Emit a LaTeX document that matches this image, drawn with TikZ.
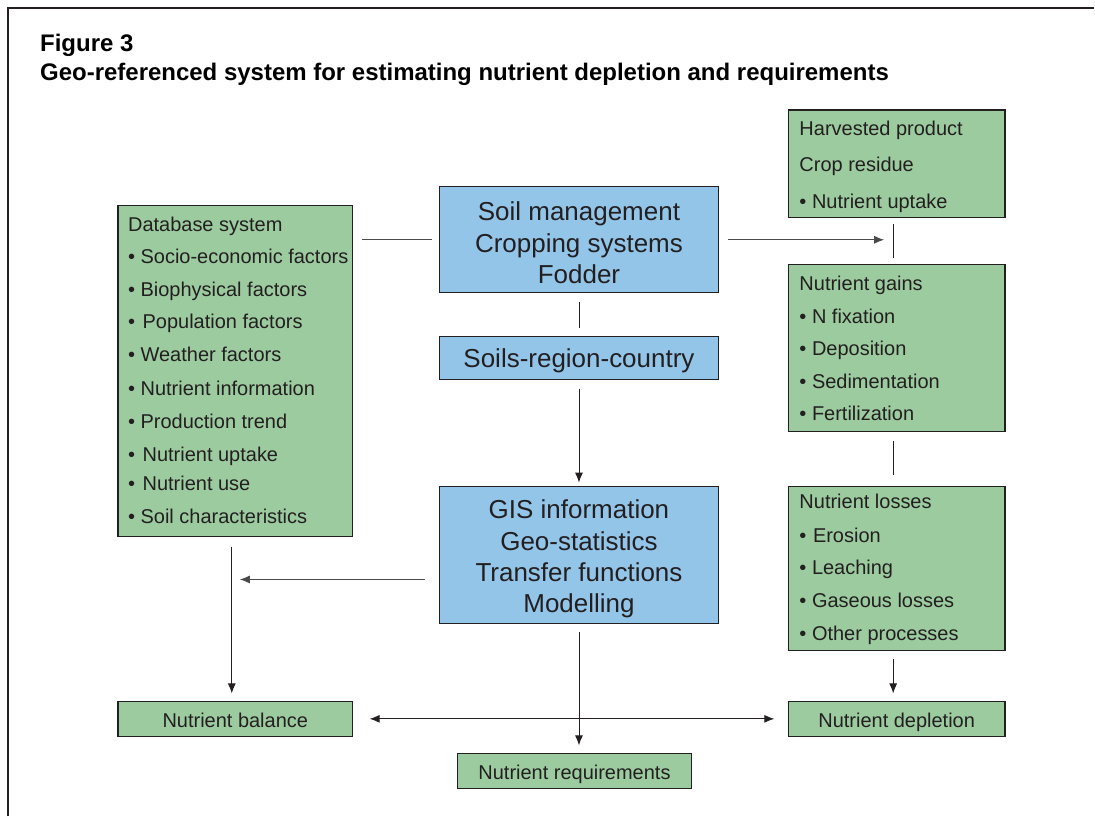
\documentclass[tikz,border=0pt]{standalone}
\usepackage{fontspec}
\setmainfont{Liberation Sans}
\usetikzlibrary{arrows.meta,calc}
\definecolor{boxgreen}{HTML}{9CCB9F}
\definecolor{boxblue}{HTML}{93C5E9}
\definecolor{ink}{HTML}{231F20}
\definecolor{wire}{HTML}{4A4A4A}

\begin{document}
\begin{tikzpicture}[x=1pt,y=-1pt,
  greenbox/.style={draw=ink, line width=1.3pt, fill=boxgreen, inner sep=0pt, outer sep=0pt,
                   font=\fontsize{20}{24}\selectfont, text=ink},
  onelabel/.style={text height=17.5pt, text depth=0pt},
  bluebox/.style={draw=ink, line width=1.3pt, fill=boxblue, inner sep=0pt, outer sep=0pt,
                  align=center, font=\fontsize{26}{31.5}\selectfont, text=ink},
  item/.style={anchor=base west, inner sep=0pt, font=\fontsize{20}{24}\selectfont, text=ink},
  titletext/.style={anchor=base west, inner sep=0pt, font=\fontsize{24}{28}\bfseries\selectfont, text=black},
  link/.style={draw=ink, line width=0.9pt},
  graylink/.style={draw=wire, line width=1.1pt},
  tip/.style={-{Latex[length=10pt,width=8pt]}},
  tips/.style={{Latex[length=10pt,width=8pt]}-{Latex[length=10pt,width=8pt]}},
]
% page and outer frame
\fill[white] (0,0) rectangle (1095,817);
\draw[ink, line width=2pt] (8,817) -- (8,8) -- (1095,8);

% heading
\node[titletext] (fig) at (40,51.5) {Figure 3};
\node[titletext] (title) at (40,80.5) {Geo-referenced system for estimating nutrient depletion and requirements};

% boxes
\node[greenbox, minimum width=235, minimum height=331] (db)   at (235.5,371.5) {};
\node[bluebox,  minimum width=279, minimum height=106] (sm)   at (579.5,240)   {\rule{0pt}{25pt}Soil management\\Cropping systems\\Fodder};
\node[bluebox,  minimum width=279, minimum height=43]  (src)  at (579.5,358.5) {\rule{0pt}{25pt}Soils-region-country};
\node[bluebox,  minimum width=279, minimum height=137] (gis)  at (579.5,555.5) {\rule{0pt}{27pt}GIS information\\Geo-statistics\\Transfer functions\\Modelling};
\node[greenbox, minimum width=217, minimum height=108] (hp)   at (897.5,164)   {};
\node[greenbox, minimum width=217, minimum height=167] (gain) at (897.5,348.5) {};
\node[greenbox, minimum width=217, minimum height=164] (loss) at (897.5,569)   {};
\node[greenbox, onelabel, minimum width=235, minimum height=35] (bal) at (235.5,719.5) {Nutrient balance};
\node[greenbox, onelabel, minimum width=234, minimum height=35] (req) at (575,771.5)   {Nutrient requirements};
\node[greenbox, onelabel, minimum width=217, minimum height=35] (dep) at (897.5,719.5) {Nutrient depletion};

% database list
\node[item] (db0) at (128,232) {Database system};
\node[item] (db1) at (128,264) {\textbullet\ Socio-economic factors};
\node[item] (db2) at (128,297) {\textbullet\ Biophysical factors};
\node[item] (db3) at (128,329) {\textbullet\ \hspace{2pt}Population factors};
\node[item] (db4) at (128,362) {\textbullet\ Weather factors};
\node[item] (db5) at (128,396) {\textbullet\ Nutrient information};
\node[item] (db6) at (128,429) {\textbullet\ Production trend};
\node[item] (db7) at (128,462) {\textbullet\ \hspace{2pt}Nutrient uptake};
\node[item] (db8) at (128,491) {\textbullet\ \hspace{2pt}Nutrient use};
\node[item] (db9) at (128,524) {\textbullet\ Soil characteristics};

% harvest list
\node[item] (hp0) at (800,136) {Harvested product};
\node[item] (hp1) at (800,172) {Crop residue};
\node[item] (hp2) at (800,209) {\textbullet\ Nutrient uptake};

% gains list
\node[item] (g0) at (800,291) {Nutrient gains};
\node[item] (g1) at (800,324) {\textbullet\ N fixation};
\node[item] (g2) at (800,356) {\textbullet\ Deposition};
\node[item] (g3) at (800,389) {\textbullet\ Sedimentation};
\node[item] (g4) at (800,421) {\textbullet\ Fertilization};

% losses list
\node[item] (l0) at (800,509) {Nutrient losses};
\node[item] (l1) at (800,543) {\textbullet\ \hspace{1pt}Erosion};
\node[item] (l2) at (800,575) {\textbullet\ Leaching};
\node[item] (l3) at (800,608) {\textbullet\ Gaseous losses};
\node[item] (l4) at (800,641) {\textbullet\ Other processes};

% junction points on the right-hand and left-hand trunks
\coordinate (rtop) at (894,241);
\coordinate (ltrunk) at (232,580);

% connectors
\draw[graylink] ($(db.east|-sm.west)+(9,0)$) -- ($(sm.west)+(-8,0)$);
\draw[graylink, tip] ($(sm.east)+(10,0)$) -- ($(rtop|-sm.east)+(-9,0)$);
\draw[link] ($(rtop|-hp.south)+(0,6)$) -- ($(rtop|-gain.north)+(0,-7)$);
\draw[link] ($(rtop|-gain.south)+(0,9)$) -- ($(rtop|-loss.north)+(0,-12)$);
\draw[link, tip] ($(rtop|-loss.south)+(0,9)$) -- ($(rtop|-dep.north)+(0,-8)$);

\draw[link] ($(sm.south)+(0,9)$) -- ($(src.north)+(0,-9)$);
\draw[link, tip] ($(src.south)+(0,9)$) -- ($(gis.north)+(0,-4)$);

\draw[graylink, tip] ($(gis.west|-ltrunk)+(-15,0)$) -- ($(ltrunk)+(8,0)$);
\draw[link, tip] ($(ltrunk|-db.south)+(0,10)$) -- ($(ltrunk|-bal.north)+(0,-8)$);

\draw[link, tip] ($(gis.south)+(0,9)$) -- ($(gis.south|-req.north)+(0,-8)$);
\draw[link, tips] ($(bal.east)+(17,0)$) -- ($(dep.west)+(-14,0)$);
\end{tikzpicture}
\end{document}
